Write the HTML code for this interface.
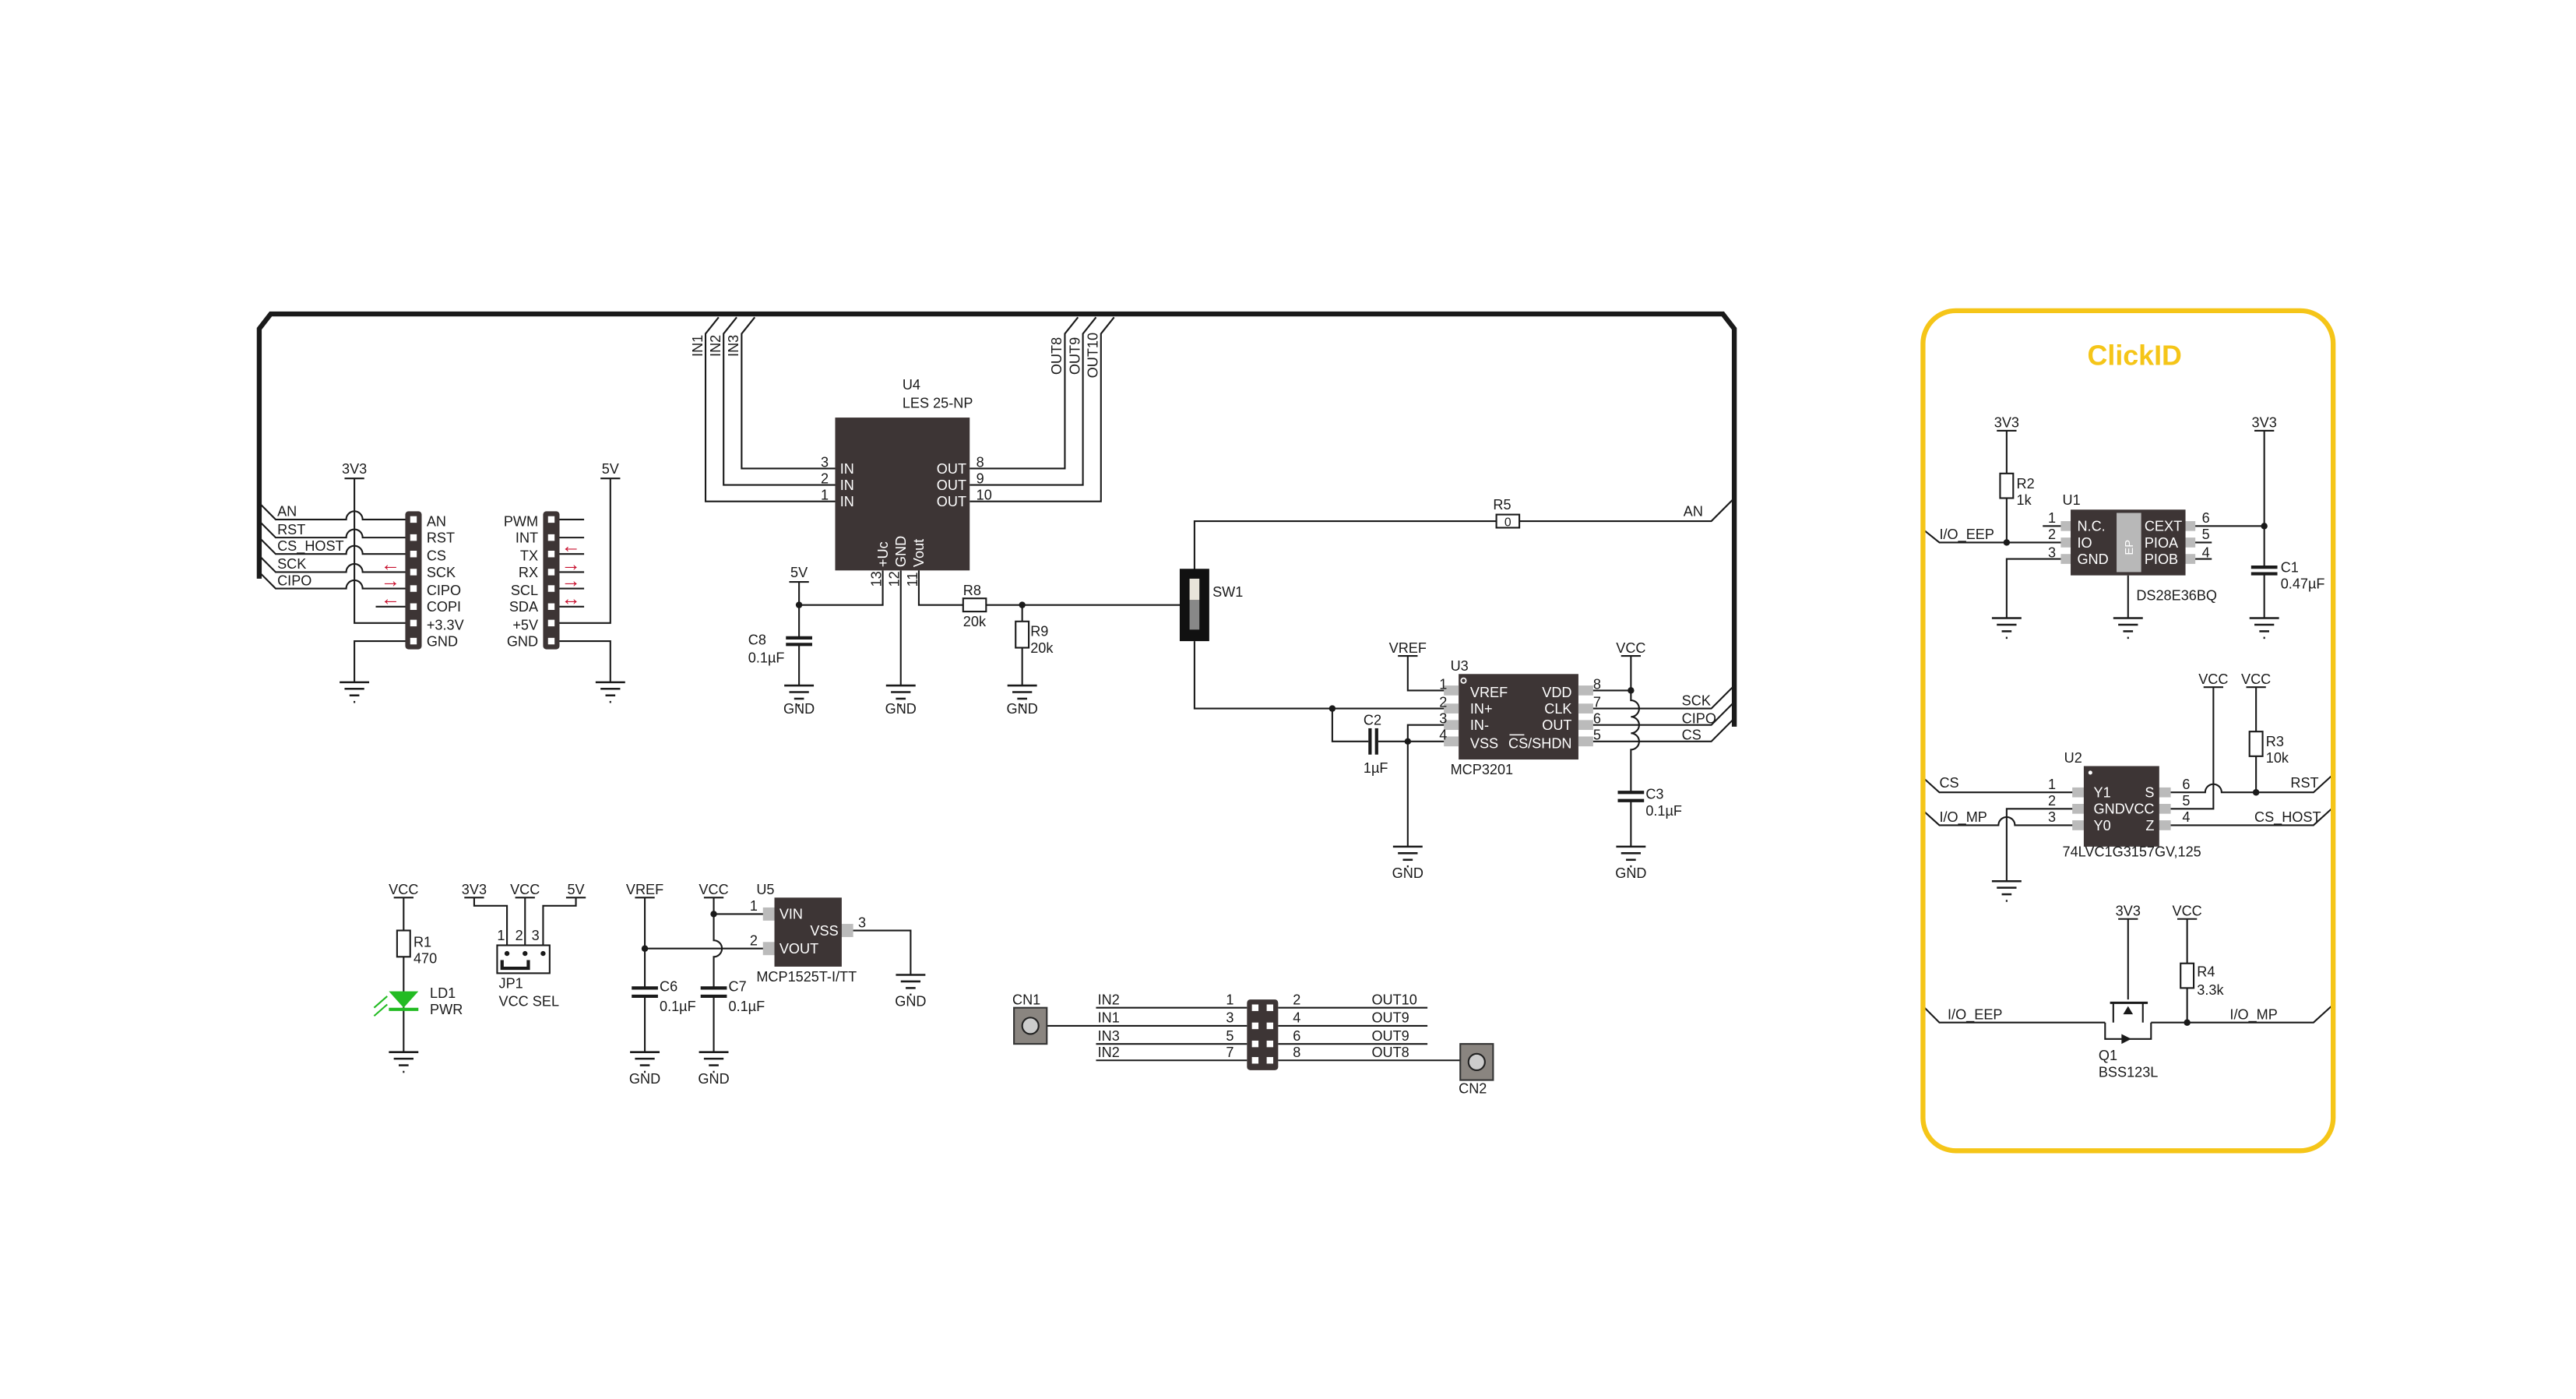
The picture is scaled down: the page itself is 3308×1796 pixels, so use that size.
<!DOCTYPE html>
<html><head><meta charset="utf-8"><style>
html,body{margin:0;padding:0;background:#fff;}
svg{display:block;}
text{font-family:"Liberation Sans",sans-serif;font-size:8.6px;fill:#1a1a1a;}
.w{fill:#fff}
.r{fill:#c8102e;font-size:12px}
</style></head><body>
<svg width="3308" height="1796" viewBox="0 0 1570 851" preserveAspectRatio="none" xmlns="http://www.w3.org/2000/svg">
<defs>
<g id="gnd" stroke="#1a1a1a" stroke-width="1.2"><line x1="-9" y1="0" x2="9" y2="0"/><line x1="-6" y1="4" x2="6" y2="4"/><line x1="-3" y1="8" x2="3" y2="8"/><line x1="-0.5" y1="12" x2="0.5" y2="12"/></g>
</defs>
<rect width="1570" height="851" fill="#fff"/>
<g fill="none" stroke="#1a1a1a" stroke-width="1">
<path d="M158,352 L158,200 L165,191 L1050,191 L1057,200 L1057,442" stroke-width="3"/>
<path d="M158,306 L168,316 L211,316 a5,5 0 0 1 10,0 L248,316"/>
<path d="M158,317 L168,327 L211,327 a5,5 0 0 1 10,0 L248,327"/>
<path d="M158,327 L168,337 L211,337 a5,5 0 0 1 10,0 L248,337"/>
<path d="M158,338 L168,348 L211,348 a5,5 0 0 1 10,0 L248,348"/>
<path d="M158,348 L168,358 L211,358 a5,5 0 0 1 10,0 L248,358"/>
<path d="M216,291 L216,379 L248,379"/>
<line x1="210" y1="291" x2="222" y2="291"/>
<line x1="229" y1="369" x2="248" y2="369"/>
<path d="M248,390 L216,390 L216,415"/>
<line x1="340" y1="316" x2="356" y2="316"/><line x1="340" y1="327" x2="356" y2="327"/><line x1="340" y1="337" x2="356" y2="337"/><line x1="340" y1="348" x2="356" y2="348"/><line x1="340" y1="358" x2="356" y2="358"/><line x1="340" y1="369" x2="356" y2="369"/>
<path d="M372,291 L372,379 L340,379"/><line x1="366" y1="291" x2="378" y2="291"/>
<path d="M340,390 L372,390 L372,415"/>
<path d="M509,285 L452,285 L452,203 L460,193"/>
<path d="M509,295 L441,295 L441,203 L449,193"/>
<path d="M509,305 L430,305 L430,203 L438,193"/>
<path d="M591,285 L649,285 L649,203 L657,193"/>
<path d="M591,295 L660,295 L660,203 L668,193"/>
<path d="M591,305 L671,305 L671,203 L679,193"/>
<path d="M538,347 L538,368 L487,368 L487,388"/><line x1="487" y1="354" x2="487" y2="368"/><line x1="481" y1="354" x2="493" y2="354"/>
<line x1="487" y1="392" x2="487" y2="417"/>
<line x1="549" y1="347" x2="549" y2="417"/>
<path d="M560,347 L560,368 L587,368"/><line x1="601" y1="368" x2="720" y2="368"/>
<line x1="623" y1="368" x2="623" y2="378"/><line x1="623" y1="394" x2="623" y2="417"/>
<path d="M728,347 L728,317 L912,317"/><path d="M926,317 L1043,317 L1057,303"/>
<path d="M728,390 L728,431 L887,431"/>
<path d="M812,431 L812,451 L834,451"/><path d="M840,451 L887,451"/>
<path d="M887,441 L858,441 L858,515"/>
<path d="M858,399 L858,420 L887,420"/><line x1="852" y1="399" x2="864" y2="399"/>
<path d="M964,420 L994,420"/>
<path d="M994,399 L994,426 a5,5 0 0 1 0,10 L994,436 a5,5 0 0 1 0,10 L994,446 a5,5 0 0 1 0,10 L994,482"/><line x1="988" y1="399" x2="1000" y2="399"/>
<line x1="994" y1="487" x2="994" y2="515"/>
<path d="M964,431 L1043,431 L1057,417"/>
<path d="M964,441 L1043,441 L1057,427"/>
<path d="M964,451 L1043,451 L1057,437"/>
<path d="M1172,322 L1182,330 L1262,330"/>
<path d="M1223,262 L1223,288"/><path d="M1223,303 L1223,330"/><line x1="1217" y1="262" x2="1229" y2="262"/>
<path d="M1262,340 L1223,340 L1223,376"/>
<line x1="1245" y1="320" x2="1262" y2="320"/>
<line x1="1297" y1="350" x2="1297" y2="376"/>
<path d="M1332,320 L1380,320"/><line x1="1332" y1="330" x2="1348" y2="330"/><line x1="1332" y1="340" x2="1348" y2="340"/>
<path d="M1380,262 L1380,345"/><line x1="1374" y1="262" x2="1386" y2="262"/><line x1="1380" y1="349" x2="1380" y2="376"/>
<path d="M1172,473 L1182,482 L1270,482"/>
<path d="M1172,493 L1182,502 L1218,502 a5,5 0 0 1 10,0 L1270,502"/>
<path d="M1270,492 L1223,492 L1223,536"/>
<path d="M1316,482 L1344,482 a5,5 0 0 1 10,0 L1410,482 L1421,472"/>
<path d="M1316,492 L1349,492 L1349,418"/><line x1="1343" y1="418" x2="1355" y2="418"/>
<path d="M1316,502 L1410,502 L1421,492"/>
<line x1="1375" y1="418" x2="1375" y2="445"/><line x1="1369" y1="418" x2="1381" y2="418"/><line x1="1375" y1="460" x2="1375" y2="482"/>
<path d="M1172,612 L1182,622 L1283,622"/><path d="M1311,622 L1410,622 L1421,612"/>
<line x1="1297" y1="559" x2="1297" y2="608"/><line x1="1291" y1="559" x2="1303" y2="559"/>
<line x1="1333" y1="559" x2="1333" y2="586"/><line x1="1327" y1="559" x2="1339" y2="559"/><line x1="1333" y1="601" x2="1333" y2="622"/>
<line x1="1286" y1="610" x2="1309" y2="610" stroke-width="1.4"/>
<path d="M1288,610 L1288,622"/><path d="M1306,610 L1306,622"/>
<path d="M1283,622 L1283,632 L1311,632 L1311,622"/>
<line x1="246" y1="546" x2="246" y2="566"/><line x1="240" y1="546" x2="252" y2="546"/><line x1="246" y1="582" x2="246" y2="640"/>
<path d="M289,546 L289,551 L309,551 L309,575"/><line x1="283" y1="546" x2="295" y2="546"/>
<line x1="320" y1="546" x2="320" y2="575"/><line x1="314" y1="546" x2="326" y2="546"/>
<path d="M351,546 L351,551 L331,551 L331,575"/><line x1="345" y1="546" x2="357" y2="546"/>
<line x1="393" y1="546" x2="393" y2="601"/><line x1="387" y1="546" x2="399" y2="546"/><line x1="393" y1="606" x2="393" y2="640"/>
<path d="M435,546 L435,572 a5,5 0 0 1 0,10 L435,601"/><line x1="429" y1="546" x2="441" y2="546"/><line x1="435" y1="606" x2="435" y2="640"/>
<line x1="435" y1="556" x2="466" y2="556"/><line x1="393" y1="577" x2="466" y2="577"/>
<path d="M519,566 L555,566 L555,593"/>
<line x1="638" y1="624" x2="760" y2="624"/>
<line x1="668" y1="613" x2="760" y2="613"/><line x1="668" y1="635" x2="760" y2="635"/><line x1="668" y1="645" x2="760" y2="645"/>
<line x1="779" y1="613" x2="870" y2="613"/><line x1="779" y1="624" x2="870" y2="624"/><line x1="779" y1="635" x2="870" y2="635"/><line x1="779" y1="645" x2="890" y2="645"/>
</g>
<use href="#gnd" x="216" y="415"/><use href="#gnd" x="372" y="415"/>
<use href="#gnd" x="487" y="417"/><use href="#gnd" x="549" y="417"/><use href="#gnd" x="623" y="417"/>
<use href="#gnd" x="858" y="515"/><use href="#gnd" x="994" y="515"/>
<use href="#gnd" x="1223" y="376"/><use href="#gnd" x="1297" y="376"/><use href="#gnd" x="1380" y="376"/><use href="#gnd" x="1223" y="536"/>
<use href="#gnd" x="246" y="640"/><use href="#gnd" x="393" y="640"/><use href="#gnd" x="435" y="640"/><use href="#gnd" x="555" y="593"/>
<g stroke="#1a1a1a" stroke-width="2"><line x1="479" y1="388" x2="495" y2="388"/><line x1="479" y1="392" x2="495" y2="392"/>
<line x1="835" y1="443" x2="835" y2="459"/><line x1="839" y1="443" x2="839" y2="459"/>
<line x1="986" y1="482" x2="1002" y2="482"/><line x1="986" y1="487" x2="1002" y2="487"/>
<line x1="1372" y1="345" x2="1388" y2="345"/><line x1="1372" y1="349" x2="1388" y2="349"/>
<line x1="385" y1="601" x2="401" y2="601"/><line x1="385" y1="606" x2="401" y2="606"/>
<line x1="427" y1="601" x2="443" y2="601"/><line x1="427" y1="606" x2="443" y2="606"/></g>
<g fill="#fff" stroke="#1a1a1a" stroke-width="1"><rect x="587" y="364" width="14" height="8"/><rect x="619" y="378" width="8" height="16"/><rect x="912" y="313" width="14" height="8"/>
<rect x="1219" y="288" width="8" height="15"/><rect x="1371" y="445" width="8" height="15"/><rect x="1329" y="586" width="8" height="15"/><rect x="242" y="566" width="8" height="16"/>
<rect x="303" y="575" width="32" height="17"/></g>
<g fill="#1a1a1a"><circle cx="487" cy="368" r="2"/><circle cx="623" cy="368" r="2"/><circle cx="812" cy="431" r="2"/><circle cx="858" cy="451" r="2"/><circle cx="994" cy="420" r="2"/>
<circle cx="1223" cy="330" r="2"/><circle cx="1380" cy="320" r="2"/><circle cx="1375" cy="482" r="2"/><circle cx="1333" cy="622" r="2"/><circle cx="393" cy="577" r="2"/><circle cx="435" cy="556" r="2"/>
<circle cx="309" cy="580" r="1.5"/><circle cx="320" cy="580" r="1.5"/><circle cx="331" cy="580" r="1.5"/></g>
<path d="M306,584 L306,589 L322,589 L322,584" fill="none" stroke="#1a1a1a" stroke-width="2"/>
<rect x="247" y="311" width="10" height="84" rx="2" fill="#3d3535"/>
<rect x="331" y="311" width="10" height="84" rx="2" fill="#3d3535"/>
<g fill="#fff"><rect x="250" y="314" width="4" height="4"/><rect x="250" y="325" width="4" height="4"/><rect x="250" y="335" width="4" height="4"/><rect x="250" y="346" width="4" height="4"/><rect x="250" y="356" width="4" height="4"/><rect x="250" y="367" width="4" height="4"/><rect x="250" y="377" width="4" height="4"/><rect x="250" y="388" width="4" height="4"/>
<rect x="334" y="314" width="4" height="4"/><rect x="334" y="325" width="4" height="4"/><rect x="334" y="335" width="4" height="4"/><rect x="334" y="346" width="4" height="4"/><rect x="334" y="356" width="4" height="4"/><rect x="334" y="367" width="4" height="4"/><rect x="334" y="377" width="4" height="4"/><rect x="334" y="388" width="4" height="4"/></g>
<rect x="509" y="254" width="82" height="93" fill="#3d3535"/>
<rect x="719" y="346" width="18" height="44" fill="#111"/><rect x="725" y="352" width="6" height="13" fill="#e8e4da"/><rect x="725" y="365" width="6" height="18" fill="#888"/>
<rect x="889" y="410" width="73" height="52" fill="#3d3535"/>
<g fill="#bbb"><rect x="880" y="417" width="9" height="6"/><rect x="880" y="428" width="9" height="6"/><rect x="880" y="438" width="9" height="6"/><rect x="880" y="448" width="9" height="6"/><rect x="962" y="417" width="9" height="6"/><rect x="962" y="428" width="9" height="6"/><rect x="962" y="438" width="9" height="6"/><rect x="962" y="448" width="9" height="6"/>
<rect x="1256" y="317" width="9" height="6"/><rect x="1256" y="327" width="9" height="6"/><rect x="1256" y="337" width="9" height="6"/><rect x="1329" y="317" width="9" height="6"/><rect x="1329" y="327" width="9" height="6"/><rect x="1329" y="337" width="9" height="6"/>
<rect x="1263" y="479" width="9" height="6"/><rect x="1263" y="489" width="9" height="6"/><rect x="1263" y="499" width="9" height="6"/><rect x="1314" y="479" width="9" height="6"/><rect x="1314" y="489" width="9" height="6"/><rect x="1314" y="499" width="9" height="6"/>
<rect x="465" y="552" width="8" height="8"/><rect x="465" y="573" width="8" height="8"/><rect x="512" y="562" width="8" height="8"/></g>
<rect x="1262" y="310" width="70" height="40" fill="#3d3535"/><rect x="1290" y="312" width="15" height="36" fill="#b8b8b8"/>
<rect x="1270" y="466" width="46" height="49" fill="#3d3535"/>
<rect x="472" y="546" width="41" height="42" fill="#3d3535"/>
<path d="M237,603 L255,603 L246,613 Z" fill="#22bb22"/><line x1="237" y1="614" x2="255" y2="614" stroke="#22bb22" stroke-width="2"/>
<g stroke="#22bb22" stroke-width="1"><line x1="236" y1="606" x2="228" y2="613"/><line x1="236" y1="611" x2="228" y2="618"/></g>
<path d="M1297,612 L1294,617 L1300,617 Z M1299,632 L1293,629 L1293,635 Z" fill="#1a1a1a"/>
<rect x="618" y="613" width="20" height="22" fill="#8a8580" stroke="#333"/><circle cx="628" cy="624" r="5" fill="#ccc" stroke="#222"/>
<rect x="890" y="635" width="20" height="22" fill="#8a8580" stroke="#333"/><circle cx="900" cy="646" r="5" fill="#ccc" stroke="#222"/>
<rect x="760" y="608" width="19" height="43" rx="2" fill="#3d3535"/>
<g fill="#fff"><rect x="763" y="611" width="4" height="4"/><rect x="772" y="611" width="4" height="4"/><rect x="763" y="622" width="4" height="4"/><rect x="772" y="622" width="4" height="4"/><rect x="763" y="633" width="4" height="4"/><rect x="772" y="633" width="4" height="4"/><rect x="763" y="643" width="4" height="4"/><rect x="772" y="643" width="4" height="4"/></g>
<rect x="1172" y="189" width="250" height="511" rx="20" fill="none" stroke="#f5c518" stroke-width="3"/>
<text x="1301" y="222" text-anchor="middle" style="font-size:17px;font-weight:bold;fill:#f5c518">ClickID</text>
<text x="169" y="314">AN</text><text x="169" y="325">RST</text><text x="169" y="335">CS_HOST</text><text x="169" y="346">SCK</text><text x="169" y="356">CIPO</text>
<text x="260" y="320">AN</text><text x="260" y="330">RST</text><text x="260" y="341">CS</text><text x="260" y="351">SCK</text><text x="260" y="362">CIPO</text><text x="260" y="372">COPI</text><text x="260" y="383">+3.3V</text><text x="260" y="393">GND</text>
<g text-anchor="end"><text x="328" y="320">PWM</text><text x="328" y="330">INT</text><text x="328" y="341">TX</text><text x="328" y="351">RX</text><text x="328" y="362">SCL</text><text x="328" y="372">SDA</text><text x="328" y="383">+5V</text><text x="328" y="393">GND</text></g>
<text class="r" x="232" y="347">←</text><text class="r" x="232" y="357">→</text><text class="r" x="232" y="368">←</text>
<text class="r" x="342" y="336">←</text><text class="r" x="342" y="347">→</text><text class="r" x="342" y="357">→</text><text class="r" x="342" y="368">↔</text>
<text x="216" y="288" text-anchor="middle">3V3</text><text x="372" y="288" text-anchor="middle">5V</text>
<text x="550" y="237">U4</text><text x="550" y="248">LES 25-NP</text>
<text x="512" y="288" class="w">IN</text><text x="512" y="298" class="w">IN</text><text x="512" y="308" class="w">IN</text>
<text x="589" y="288" class="w" text-anchor="end">OUT</text><text x="589" y="298" class="w" text-anchor="end">OUT</text><text x="589" y="308" class="w" text-anchor="end">OUT</text>
<text x="505" y="284" text-anchor="end">3</text><text x="505" y="294" text-anchor="end">2</text><text x="505" y="304" text-anchor="end">1</text>
<text x="595" y="284">8</text><text x="595" y="294">9</text><text x="595" y="304">10</text>
<g transform="rotate(-90)"><text x="-345" y="541" class="w">+Uc</text><text x="-345" y="552" class="w">GND</text><text x="-345" y="563" class="w">Vout</text>
<text x="-357" y="537">13</text><text x="-357" y="548">12</text><text x="-357" y="559">11</text>
<text x="-217" y="428">IN1</text><text x="-217" y="439">IN2</text><text x="-217" y="450">IN3</text>
<text x="-228" y="647">OUT8</text><text x="-228" y="658">OUT9</text><text x="-230" y="669">OUT10</text></g>
<text x="487" y="351" text-anchor="middle">5V</text><text x="456" y="392">C8</text><text x="456" y="403">0.1µF</text>
<text x="487" y="434" text-anchor="middle">GND</text><text x="549" y="434" text-anchor="middle">GND</text><text x="623" y="434" text-anchor="middle">GND</text>
<text x="587" y="362">R8</text><text x="587" y="381">20k</text><text x="628" y="387">R9</text><text x="628" y="397">20k</text>
<text x="739" y="363">SW1</text><text x="910" y="310">R5</text><text x="919" y="320" text-anchor="middle" style="font-size:7.5px">0</text><text x="1026" y="314">AN</text>
<text x="858" y="397" text-anchor="middle">VREF</text><text x="994" y="397" text-anchor="middle">VCC</text>
<text x="884" y="408">U3</text><circle cx="892" cy="414" r="1.5" fill="none" stroke="#fff" stroke-width="0.8"/>
<text x="896" y="424" class="w">VREF</text><text x="896" y="434" class="w">IN+</text><text x="896" y="444" class="w">IN-</text><text x="896" y="455" class="w">VSS</text>
<g text-anchor="end"><text x="958" y="424" class="w">VDD</text><text x="958" y="434" class="w">CLK</text><text x="958" y="444" class="w">OUT</text><text x="958" y="455" class="w">CS/SHDN</text>
<text x="882" y="419">1</text><text x="882" y="430">2</text><text x="882" y="440">3</text><text x="882" y="450">4</text></g>
<line x1="920" y1="447" x2="929" y2="447" stroke="#fff" stroke-width="0.7"/>
<text x="971" y="419">8</text><text x="971" y="430">7</text><text x="971" y="440">6</text><text x="971" y="450">5</text>
<text x="884" y="471">MCP3201</text><text x="831" y="441">C2</text><text x="831" y="470">1µF</text>
<text x="1003" y="486">C3</text><text x="1003" y="496">0.1µF</text>
<text x="858" y="534" text-anchor="middle">GND</text><text x="994" y="534" text-anchor="middle">GND</text>
<text x="1025" y="429">SCK</text><text x="1025" y="440">CIPO</text><text x="1025" y="450">CS</text>
<text x="1223" y="260" text-anchor="middle">3V3</text><text x="1380" y="260" text-anchor="middle">3V3</text>
<text x="1229" y="297">R2</text><text x="1229" y="307">1k</text><text x="1182" y="328">I/O_EEP</text>
<text x="1257" y="307">U1</text>
<text x="1266" y="323" class="w">N.C.</text><text x="1266" y="333" class="w">IO</text><text x="1266" y="343" class="w">GND</text>
<text x="1307" y="323" class="w">CEXT</text><text x="1307" y="333" class="w">PIOA</text><text x="1307" y="343" class="w">PIOB</text>
<text x="1300" y="333" transform="rotate(-90 1300 333)" text-anchor="middle" style="font-size:7px;fill:#fff">EP</text>
<g text-anchor="end"><text x="1253" y="318">1</text><text x="1253" y="328">2</text><text x="1253" y="339">3</text><text x="1253" y="480">1</text><text x="1253" y="490">2</text><text x="1253" y="500">3</text></g>
<text x="1342" y="318">6</text><text x="1342" y="328">5</text><text x="1342" y="339">4</text>
<text x="1302" y="365">DS28E36BQ</text><text x="1390" y="348">C1</text><text x="1390" y="358">0.47µF</text>
<text x="1349" y="416" text-anchor="middle">VCC</text><text x="1375" y="416" text-anchor="middle">VCC</text>
<text x="1381" y="454">R3</text><text x="1381" y="464">10k</text>
<text x="1258" y="464">U2</text><circle cx="1274" cy="470" r="1.2" fill="#fff"/>
<text x="1276" y="485" class="w">Y1</text><text x="1276" y="495" class="w">GND</text><text x="1276" y="505" class="w">Y0</text>
<g text-anchor="end"><text x="1313" y="485" class="w">S</text><text x="1313" y="495" class="w">VCC</text><text x="1313" y="505" class="w">Z</text></g>
<text x="1330" y="480">6</text><text x="1330" y="490">5</text><text x="1330" y="500">4</text>
<text x="1182" y="479">CS</text><text x="1182" y="500">I/O_MP</text><text x="1396" y="479">RST</text><text x="1374" y="500">CS_HOST</text>
<text x="1257" y="521">74LVC1G3157GV,125</text>
<text x="1297" y="557" text-anchor="middle">3V3</text><text x="1333" y="557" text-anchor="middle">VCC</text>
<text x="1339" y="594">R4</text><text x="1339" y="605">3.3k</text>
<text x="1187" y="620">I/O_EEP</text><text x="1359" y="620">I/O_MP</text>
<text x="1279" y="645">Q1</text><text x="1279" y="655">BSS123L</text>
<text x="246" y="544" text-anchor="middle">VCC</text><text x="252" y="576">R1</text><text x="252" y="586">470</text><text x="262" y="607">LD1</text><text x="262" y="617">PWR</text>
<text x="289" y="544" text-anchor="middle">3V3</text><text x="320" y="544" text-anchor="middle">VCC</text><text x="351" y="544" text-anchor="middle">5V</text>
<text x="303" y="572">1</text><text x="314" y="572">2</text><text x="324" y="572">3</text>
<text x="304" y="601">JP1</text><text x="304" y="612">VCC SEL</text>
<text x="393" y="544" text-anchor="middle">VREF</text><text x="435" y="544" text-anchor="middle">VCC</text><text x="461" y="544">U5</text>
<text x="475" y="559" class="w">VIN</text><text x="475" y="580" class="w">VOUT</text><text x="511" y="569" class="w" text-anchor="end">VSS</text>
<text x="457" y="554">1</text><text x="457" y="575">2</text><text x="523" y="564">3</text>
<text x="461" y="597">MCP1525T-I/TT</text><text x="402" y="603">C6</text><text x="402" y="615">0.1µF</text><text x="444" y="603">C7</text><text x="444" y="615">0.1µF</text>
<text x="393" y="659" text-anchor="middle">GND</text><text x="435" y="659" text-anchor="middle">GND</text><text x="555" y="612" text-anchor="middle">GND</text>
<text x="617" y="611">CN1</text><text x="889" y="665">CN2</text>
<text x="669" y="611">IN2</text><text x="669" y="622">IN1</text><text x="669" y="633">IN3</text><text x="669" y="643">IN2</text>
<g text-anchor="end"><text x="752" y="611">1</text><text x="752" y="622">3</text><text x="752" y="633">5</text><text x="752" y="643">7</text></g>
<text x="788" y="611">2</text><text x="788" y="622">4</text><text x="788" y="633">6</text><text x="788" y="643">8</text>
<text x="836" y="611">OUT10</text><text x="836" y="622">OUT9</text><text x="836" y="633">OUT9</text><text x="836" y="643">OUT8</text>
</svg>
</body></html>
